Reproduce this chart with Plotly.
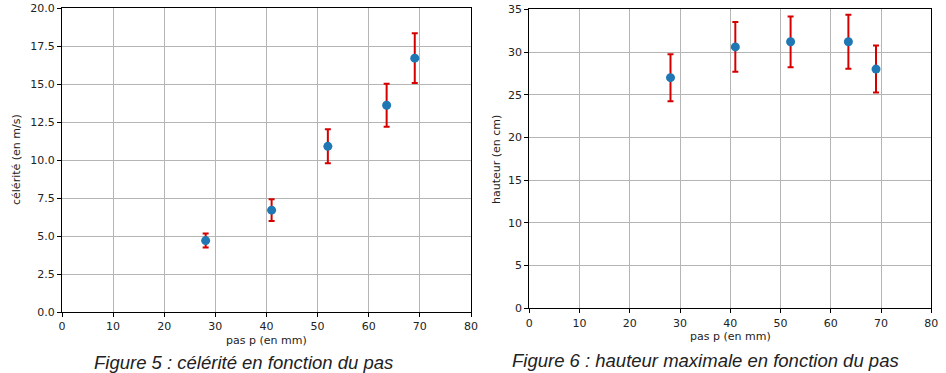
import plotly.graph_objects as go

pas = [28.1, 41.0, 52.0, 63.5, 69.0]
celerite = [4.7, 6.7, 10.9, 13.6, 16.7]
celerite_err = [0.46, 0.71, 1.12, 1.42, 1.64]
hauteur = [27.0, 30.6, 31.2, 31.2, 28.0]
hauteur_err = [2.75, 2.9, 2.97, 3.16, 2.75]

W, H = 946, 373
def px(x): return x / W
def py(y): return 1 - y / H

fig = go.Figure()
err_style = dict(type="data", color="#d40000", thickness=2, width=3, visible=True)
fig.add_trace(go.Scatter(x=pas, y=celerite, mode="markers",
                         error_y=dict(array=celerite_err, **err_style),
                         marker=dict(color="#1f77b4", size=9),
                         xaxis="x", yaxis="y", showlegend=False))
fig.add_trace(go.Scatter(x=pas, y=hauteur, mode="markers",
                         error_y=dict(array=hauteur_err, **err_style),
                         marker=dict(color="#1f77b4", size=9),
                         xaxis="x2", yaxis="y2", showlegend=False))

tickfont = dict(family="DejaVu Sans", size=11, color="#222")
common = dict(showgrid=True, gridcolor="#b5b5b5", gridwidth=1, zeroline=False,
              showline=True, linecolor="black", linewidth=1, mirror=True,
              ticks="outside", ticklen=4, tickcolor="black", tickfont=tickfont,
              automargin=False)

fig.update_layout(
    width=W, height=H, margin=dict(l=0, r=0, t=0, b=0, autoexpand=False),
    paper_bgcolor="white", plot_bgcolor="white",
    xaxis=dict(domain=[px(62), px(471)], range=[0, 80], dtick=10, anchor="y", **common),
    yaxis=dict(domain=[py(312), py(8)], range=[0, 20], dtick=2.5, tickformat=".1f", anchor="x", **common),
    xaxis2=dict(domain=[px(529.3), px(931.3)], range=[0, 80], dtick=10, anchor="y2", **common),
    yaxis2=dict(domain=[py(308.3), py(9.3)], range=[0, 35], dtick=5, anchor="x2", **common),
)

lab = dict(family="DejaVu Sans", size=11, color="#222")
cap = dict(family="Liberation Sans", size=18.5, color="#222")
ann = [
    dict(text="pas p (en mm)", x=px(266), y=py(340), xanchor="center", yanchor="middle"),
    dict(text="pas p (en mm)", x=px(730), y=py(336), xanchor="center", yanchor="middle"),
    dict(text="célérité (en m/s)", x=px(16), y=py(160), xanchor="center", yanchor="middle", textangle=-90),
    dict(text="hauteur (en cm)", x=px(496), y=py(160), xanchor="center", yanchor="middle", textangle=-90),
]
annotations = []
for a in ann:
    annotations.append(dict(xref="paper", yref="paper", showarrow=False, font=lab, **a))
annotations.append(dict(xref="paper", yref="paper", showarrow=False, font=cap,
                        text="<i>Figure 5 : célérité en fonction du pas</i>",
                        x=px(243), y=py(362), xanchor="center", yanchor="middle"))
annotations.append(dict(xref="paper", yref="paper", showarrow=False, font=cap,
                        text="<i>Figure 6 : hauteur maximale en fonction du pas</i>",
                        x=px(705), y=py(360), xanchor="center", yanchor="middle"))
fig.update_layout(annotations=annotations)

fig.write_html("out.html", config={"displayModeBar": False},
               post_script="document.body.style.margin='0';document.body.style.overflow='hidden';")
